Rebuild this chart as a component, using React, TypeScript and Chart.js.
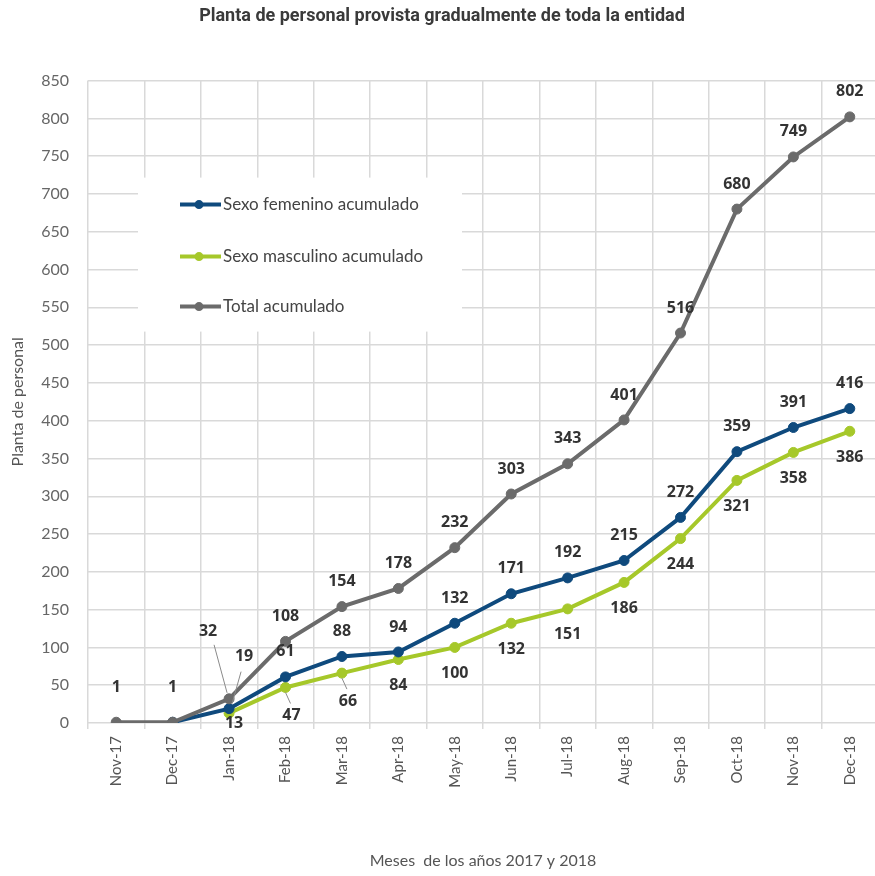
import React, { useEffect, useRef } from "react";
import { Chart, registerables } from "chart.js";

Chart.register(...registerables);

const titleText = "Planta de personal provista gradualmente de toda la entidad";
const xTitle = "Meses  de los años 2017 y 2018";
const yTitle = "Planta de personal";

const categories = [
  "Nov-17", "Dec-17", "Jan-18", "Feb-18", "Mar-18", "Apr-18", "May-18",
  "Jun-18", "Jul-18", "Aug-18", "Sep-18", "Oct-18", "Nov-18", "Dec-18",
];

const femenino = [null, 1, 19, 61, 88, 94, 132, 171, 192, 215, 272, 359, 391, 416];
const masculino = [null, null, 13, 47, 66, 84, 100, 132, 151, 186, 244, 321, 358, 386];
const total = [1, 1, 32, 108, 154, 178, 232, 303, 343, 401, 516, 680, 749, 802];

const seriesNames = ["Sexo femenino acumulado", "Sexo masculino acumulado", "Total acumulado"];
const seriesColors = ["#0f4a7d", "#a6c82a", "#6b6b6b"];

const yMin = 0;
const yMax = 850;
const yStep = 50;

const W = 884;
const H = 876;

const labelFont = "700 16px 'Open Sans'";

const pointLabelsPlugin = {
  id: "pointLabels",
  afterDatasetsDraw(chart: any) {
    const ctx = chart.ctx;
    ctx.save();
    ctx.font = labelFont;
    ctx.fillStyle = "#333";
    ctx.textAlign = "center";
    ctx.textBaseline = "middle";
    chart.data.datasets.forEach((ds: any, di: number) => {
      const meta = chart.getDatasetMeta(di);
      const key = ds.key;
      meta.data.forEach((pt: any, i: number) => {
        const v = ds.data[i];
        if (v == null) return;
        if (key !== "total" && v === total[i]) return;
        let dx = 0;
        let dy = key === "masculino" ? 26 : -25;
        let leader: number[] | null = null;
        if (key === "total" && i < 2) dy = -35;
        if (i === 2) {
          if (key === "total") { dx = -21; dy = -67; leader = [-15, -54, -2, -6]; }
          if (key === "femenino") { dx = 15; dy = -52; leader = [12, -37, 3, -5]; }
          if (key === "masculino") { dx = 5; dy = 10; }
        }
        if (key === "masculino" && (i === 3 || i === 4)) {
          dx = 6; dy = 28;
          leader = [0, 5, 5, 16];
        }
        if (leader) {
          ctx.beginPath();
          ctx.strokeStyle = "#8a8a8a";
          ctx.lineWidth = 1;
          ctx.moveTo(pt.x + leader[0], pt.y + leader[1]);
          ctx.lineTo(pt.x + leader[2], pt.y + leader[3]);
          ctx.stroke();
        }
        ctx.fillText(String(v), pt.x + dx, pt.y + dy);
      });
    });
    ctx.restore();
  },
};

const innerLegendPlugin = {
  id: "innerLegend",
  beforeDatasetsDraw(chart: any) {
    const ctx = chart.ctx;
    const a = chart.chartArea;
    const boxX = a.left + 50;
    const boxY = a.top + 97;
    ctx.save();
    ctx.fillStyle = "#ffffff";
    ctx.fillRect(boxX, boxY, 324, 154);
    const rows = [boxY + 27, boxY + 79, boxY + 129];
    seriesNames.forEach((name, i) => {
      const y = rows[i];
      const x0 = boxX + 42;
      ctx.strokeStyle = seriesColors[i];
      ctx.lineWidth = 4;
      ctx.beginPath();
      ctx.moveTo(x0, y);
      ctx.lineTo(x0 + 41, y);
      ctx.stroke();
      ctx.fillStyle = seriesColors[i];
      ctx.beginPath();
      ctx.arc(x0 + 19, y, 4.5, 0, Math.PI * 2);
      ctx.fill();
      ctx.fillStyle = "#444";
      ctx.font = "17px Lato";
      ctx.textAlign = "left";
      ctx.textBaseline = "middle";
      ctx.fillText(name, x0 + 43, y);
    });
    ctx.restore();
  },
};

function makeDataset(label: string, key: string, data: (number | null)[], color: string, order: number) {
  return {
    label,
    key,
    data,
    borderColor: color,
    backgroundColor: color,
    pointBackgroundColor: color,
    pointBorderColor: color,
    pointBorderWidth: 1,
    pointRadius: 5,
    borderWidth: 4,
    tension: 0,
    order,
  };
}

export default function App() {
  const ref = useRef<HTMLCanvasElement | null>(null);

  useEffect(() => {
    if (!ref.current) return;
    const chart = new Chart(ref.current, {
      type: "line",
      data: {
        labels: categories,
        datasets: [
          makeDataset(seriesNames[0], "femenino", femenino, seriesColors[0], 1),
          makeDataset(seriesNames[1], "masculino", masculino, seriesColors[1], 2),
          makeDataset(seriesNames[2], "total", total, seriesColors[2], 0),
        ] as any,
      },
      options: {
        responsive: false,
        animation: false,
        layout: { padding: 0 },
        plugins: {
          legend: { display: false },
          tooltip: { enabled: false },
          title: {
            display: true,
            text: titleText,
            color: "#3a3a3a",
            font: { family: "'Liberation Sans Narrow', 'Roboto', sans-serif", size: 18, weight: "bold" },
            padding: { top: 6, bottom: 53 },
          },
        },
        scales: {
          x: {
            offset: true,
            grid: { offset: true, color: "#d9d9d9", lineWidth: 1.5, tickLength: 6 },
            border: { display: false },
            ticks: {
              maxRotation: 90,
              minRotation: 90,
              padding: 7,
              color: "#555",
              font: { family: "Lato", size: 15 },
            },
            title: {
              display: true,
              text: xTitle,
              color: "#555",
              font: { family: "Lato", size: 16 },
              padding: { top: 0, bottom: 6 },
            },
            afterFit: (s: any) => { s.height = 153; },
          },
          y: {
            min: yMin,
            max: yMax,
            grid: { color: "#d9d9d9", lineWidth: 1.5, drawTicks: false },
            border: { display: false },
            ticks: {
              stepSize: yStep,
              padding: 19,
              color: "#666",
              font: { family: "Lato", size: 16 },
            },
            title: {
              display: true,
              text: yTitle,
              color: "#555",
              font: { family: "Lato", size: 16 },
              padding: { top: 8, bottom: 0 },
            },
            afterFit: (s: any) => { s.width = 88; },
          },
        },
      },
      plugins: [innerLegendPlugin, pointLabelsPlugin],
    });
    return () => chart.destroy();
  }, []);

  return (
    <div style={{ position: "fixed", left: 0, top: 0, width: 875, height: 876, overflow: "hidden", background: "#fff" }}>
      <canvas ref={ref} width={W} height={H} style={{ width: W, height: H, display: "block" }} />
    </div>
  );
}
